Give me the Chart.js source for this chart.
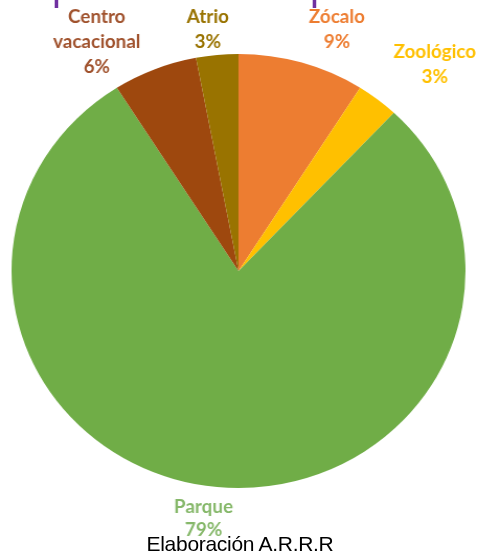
<!DOCTYPE html>
<html>
<head>
<meta charset="utf-8">
<script src="https://cdn.jsdelivr.net/npm/chart.js@4"></script>
<style>
  body { margin: 0; background: #fff; }
  #wrap { position: relative; width: 480px; height: 558px; overflow: hidden; }
  /* el pastel original esta un poco estirado a lo ancho */
  #lienzo { position: absolute; left: 0; top: 0; transform: scaleX(1.046); transform-origin: 0 0; }
  #cut { position: absolute; top: -34px; left: 0; width: 480px; color: #7030A0; font: 40px/40px "Liberation Sans", Arial, sans-serif; }
  #cut span { position: absolute; }
  #foot { position: absolute; left: 0; width: 480px; top: 532px; text-align: center; font: 21px "Liberation Sans", Arial, sans-serif; color: #000; letter-spacing: -0.3px; }
</style>
</head>
<body>
<div id="wrap">
  <div id="lienzo"><canvas id="myChart" width="459" height="558"></canvas></div>
  <div id="cut"><span style="left:52px">p</span><span style="left:310px">p</span></div>
  <div id="foot">Elaboración A.R.R.R</div>
</div>
<script>
// lugares (en el orden del grafico, desde arriba en sentido horario)
var lugares = ['Zócalo', 'Zoológico', 'Parque', 'Centro vacacional', 'Atrio'];
var porcentajes = [9, 3, 79, 6, 3];
var colores = ['#ED7D31', '#FFC000', '#70AD47', '#9E480E', '#997300'];
var coloresTexto = ['#ED7D31', '#FFC000', '#86B86A', '#A0522D', '#997300'];
// lineas de cada etiqueta
var etiquetas = [['Zócalo', '9%'], ['Zoológico', '3%'], ['Parque', '79%'], ['Centro', 'vacacional', '6%'], ['Atrio', '3%']];

// desplazamiento de cada etiqueta respecto al borde de su rebanada
var despl = [[33.5, -33], [54.7, -35], [-13, 31.5], [-55.6, -27.2], [-8.9, -25.5]];
var interlineado = [25, 25, 23, 25, 25];

var etiquetasPlugin = {
    id: 'etiquetas',
    afterDraw: function(chart) {
        var ctx = chart.ctx;
        var arcs = chart.getDatasetMeta(0).data;
        ctx.save();
        ctx.font = 'bold 18px Lato, "Open Sans", sans-serif';
        ctx.textAlign = 'center';
        ctx.textBaseline = 'middle';
        for (let i = 0; i < arcs.length; i++) {
            var a = arcs[i];
            var mid = (a.startAngle + a.endAngle) / 2;
            var x = a.x + Math.cos(mid) * a.outerRadius + despl[i][0];
            var y = a.y + Math.sin(mid) * a.outerRadius + despl[i][1];
            var lineas = etiquetas[i];
            ctx.fillStyle = coloresTexto[i];
            var y0 = y - (lineas.length - 1) * interlineado[i] / 2;
            for (let j = 0; j < lineas.length; j++) {
                ctx.fillText(lineas[j], x, y0 + j * interlineado[i]);
            }
        }
        ctx.restore();
    }
};

let ctx = document.getElementById('myChart').getContext('2d');
new Chart(ctx, {
    type: 'pie',
    data: {
        labels: lugares,
        datasets: [{
            data: porcentajes,
            backgroundColor: colores,
            borderWidth: 0
        }]
    },
    options: {
        responsive: false,
        animation: false,
        layout: { padding: { left: 11, right: 14, top: 54, bottom: 70 } },
        plugins: {
            legend: { display: false },
            tooltip: { enabled: false }
        }
    },
    plugins: [etiquetasPlugin]
});
</script>
</body>
</html>
